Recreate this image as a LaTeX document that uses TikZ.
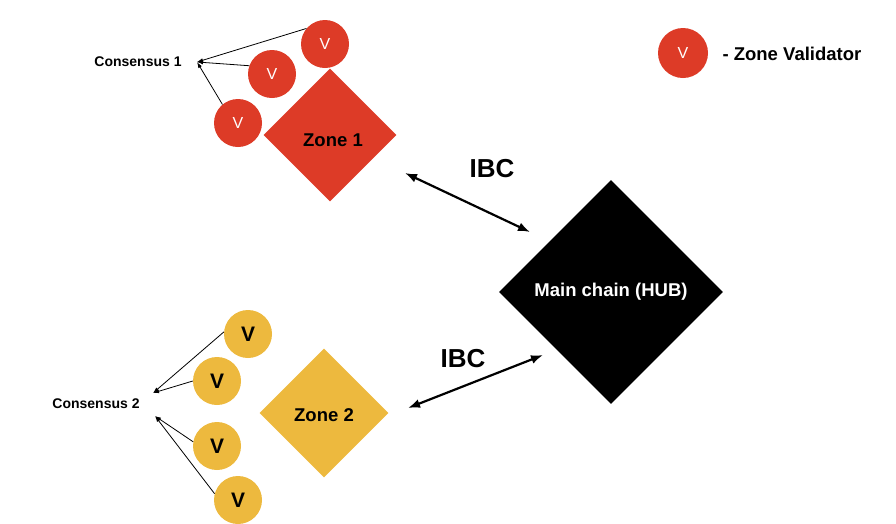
\documentclass[tikz,border=0pt]{standalone}
\usepackage{fontspec}
\setmainfont{Liberation Sans}
\usepackage{xcolor}
\usepackage{tikz}
\usetikzlibrary{arrows,arrows.meta,shapes.geometric}
\definecolor{zonered}{HTML}{DD3B27}
\definecolor{zoneyellow}{HTML}{EDB93E}
\tikzset{redVnode/.style={shape=circle,fill=zonered,text=white,minimum size=48pt,inner sep=0pt,font=\fontsize{16}{16}\selectfont}}
\tikzset{yellowVnode/.style={shape=circle,fill=zoneyellow,minimum size=48pt,inner sep=0pt,font=\fontsize{21}{21}\selectfont\bfseries}}
\tikzset{zonenode/.style={shape=diamond,aspect=1,inner sep=0pt,font=\fontsize{18.5}{18.5}\selectfont\bfseries}}
\tikzset{labelnode/.style={font=\fontsize{14}{14}\selectfont\bfseries}}
\tikzset{IBCnode/.style={font=\fontsize{26}{26}\selectfont\bfseries}}

\begin{document}
\begin{tikzpicture}[x=1pt,y=-1pt]
	\useasboundingbox (0,0) rectangle (896,523);
	%
	\node[zonenode,fill=zonered,minimum size=133pt] (Z1) at (330,135) {};
	\node[zonenode,fill=zoneyellow,minimum size=129pt] (Z2) at (324,413) {};
	\node[zonenode,fill=black,text=white,minimum size=224pt] (H) at (611,292) {Main chain (HUB)};
	\node[font=\fontsize{18.5}{18.5}\selectfont\bfseries] (Z1t) at (333,140) {Zone 1};
	\node[font=\fontsize{18.5}{18.5}\selectfont\bfseries] (Z2t) at (324,415) {Zone 2};
	%
	\node[redVnode] (R1) at (325,44) {V};
	\node[redVnode] (R2) at (272,74) {V};
	\node[redVnode] (R3) at (238,123) {V};
	\node[yellowVnode] (Y1) at (248,334) {V};
	\node[yellowVnode] (Y2) at (217,381) {V};
	\node[yellowVnode] (Y3) at (217,446) {V};
	\node[yellowVnode] (Y4) at (238,500) {V};
	%
	\node[labelnode] (C1) at (138,62) {Consensus 1};
	\node[labelnode] (C2) at (96,404) {Consensus 2};
	\coordinate (C1') at (197,62);
	\coordinate (C2') at (153,393);
	\coordinate (C2'') at (155,416);
	%
	\node[redVnode,minimum size=50pt] (L) at (683,53) {V};
	\node[labelnode,font=\fontsize{18.5}{18.5}\selectfont\bfseries,anchor=west] (Lt) at (719,54) {- Zone Validator};
	%
	\node[IBCnode] (I1) at (492,169) {IBC};
	\node[IBCnode] (I2) at (463,359) {IBC};
	\coordinate (I1a) at (405,173);
	\coordinate (I1b) at (530,232);
	\coordinate (I2a) at (408,408);
	\coordinate (I2b) at (543,355);
	%
	\path[-{Latex[length=6pt,width=4pt]},line width=.8pt]
	(R1.140) edge (C1')
	(R2.160) edge (C1')
	(R3.130) edge (C1')
	(Y1.175) edge (C2')
	(Y2.180) edge (C2')
	(Y3.170) edge (C2'')
	(Y4.165) edge (C2'');
	%
	\path[{Latex[length=12pt,width=9pt]}-{Latex[length=12pt,width=9pt]},line width=2.2pt]
	(I1a) edge (I1b)
	(I2a) edge (I2b);
\end{tikzpicture}
\end{document}
